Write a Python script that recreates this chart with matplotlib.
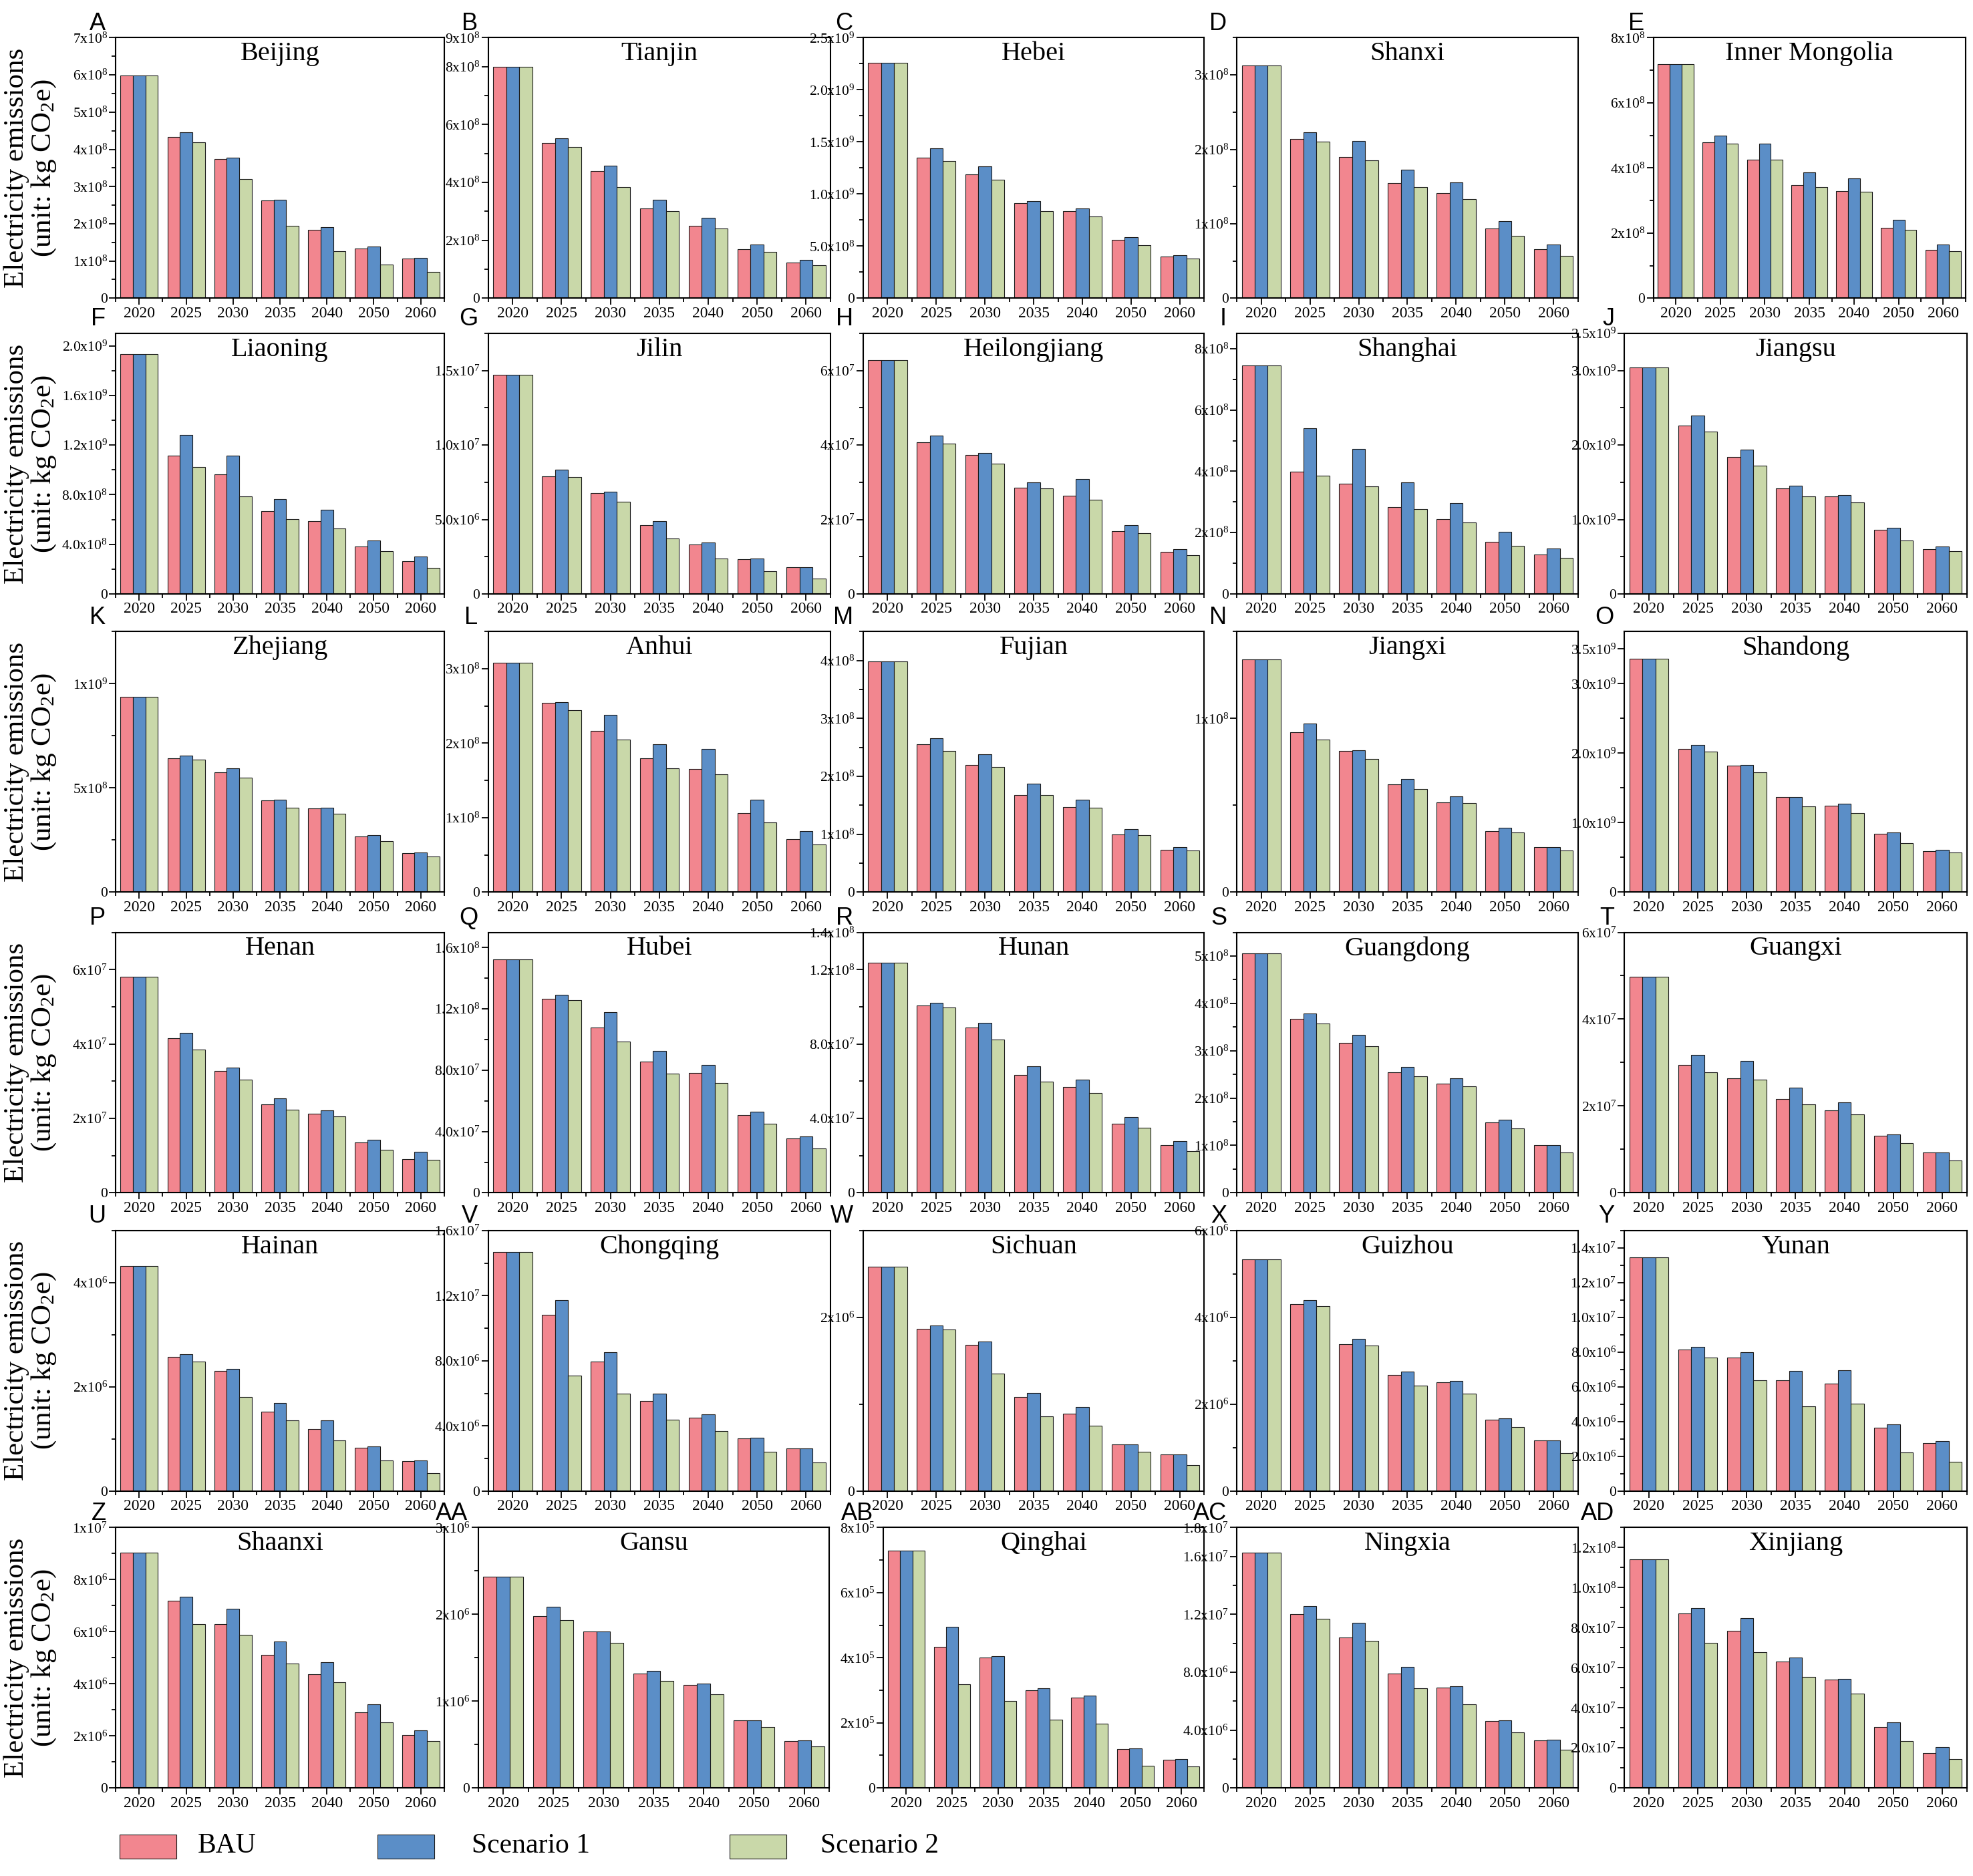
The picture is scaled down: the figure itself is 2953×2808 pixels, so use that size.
import numpy as np
import matplotlib
matplotlib.use("Agg")
import matplotlib.pyplot as plt
from matplotlib.patches import Rectangle
from matplotlib.ticker import MultipleLocator

plt.rcParams['font.family'] = ['Liberation Serif', 'DejaVu Serif']
plt.rcParams['mathtext.fontset'] = 'custom'
plt.rcParams['mathtext.rm'] = 'Liberation Serif'
plt.rcParams['mathtext.it'] = 'Liberation Serif:italic'

years = ['2020', '2025', '2030', '2035', '2040', '2050', '2060']
series = ['BAU', 'Scenario 1', 'Scenario 2']
colors = ['#F2868F', '#5B8EC7', '#C9D8A9']

letters = ['A', 'B', 'C', 'D', 'E', 'F', 'G', 'H', 'I', 'J', 'K', 'L', 'M', 'N', 'O',
           'P', 'Q', 'R', 'S', 'T', 'U', 'V', 'W', 'X', 'Y', 'Z', 'AA', 'AB', 'AC', 'AD']
provinces = ['Beijing', 'Tianjin', 'Hebei', 'Shanxi', 'Inner Mongolia',
             'Liaoning', 'Jilin', 'Heilongjiang', 'Shanghai', 'Jiangsu',
             'Zhejiang', 'Anhui', 'Fujian', 'Jiangxi', 'Shandong',
             'Henan', 'Hubei', 'Hunan', 'Guangdong', 'Guangxi',
             'Hainan', 'Chongqing', 'Sichuan', 'Guizhou', 'Yunan',
             'Shaanxi', 'Gansu', 'Qinghai', 'Ningxia', 'Xinjiang']

# unit of each panel's numbers below (kg CO2e)
scale = [1e8, 1e8, 1e9, 1e8, 1e8,
         1e9, 1e7, 1e7, 1e8, 1e9,
         1e9, 1e8, 1e8, 1e8, 1e9,
         1e7, 1e8, 1e8, 1e8, 1e7,
         1e6, 1e7, 1e6, 1e6, 1e7,
         1e6, 1e6, 1e5, 1e7, 1e8]

bau = [
    [5.98, 4.34, 3.74, 2.63, 1.84, 1.34, 1.06],
    [8.0, 5.37, 4.40, 3.11, 2.51, 1.70, 1.24],
    [2.258, 1.349, 1.19, 0.911, 0.838, 0.561, 0.40],
    [3.13, 2.14, 1.90, 1.55, 1.41, 0.94, 0.66],
    [7.19, 4.79, 4.26, 3.48, 3.29, 2.17, 1.49],
    [1.934, 1.116, 0.965, 0.665, 0.586, 0.382, 0.263],
    [1.47, 0.791, 0.679, 0.462, 0.332, 0.232, 0.178],
    [6.28, 4.07, 3.74, 2.85, 2.63, 1.69, 1.13],
    [7.46, 3.98, 3.60, 2.83, 2.43, 1.69, 1.29],
    [3.04, 2.26, 1.84, 1.42, 1.31, 0.86, 0.60],
    [0.937, 0.643, 0.576, 0.439, 0.403, 0.266, 0.188],
    [3.08, 2.54, 2.17, 1.80, 1.65, 1.06, 0.71],
    [3.98, 2.55, 2.20, 1.68, 1.47, 1.00, 0.73],
    [1.339, 0.922, 0.812, 0.621, 0.518, 0.353, 0.257],
    [3.36, 2.06, 1.82, 1.37, 1.24, 0.84, 0.59],
    [5.80, 4.16, 3.27, 2.37, 2.12, 1.35, 0.91],
    [1.523, 1.267, 1.080, 0.857, 0.781, 0.507, 0.355],
    [1.236, 1.008, 0.887, 0.633, 0.568, 0.370, 0.255],
    [5.06, 3.67, 3.16, 2.54, 2.31, 1.49, 1.01],
    [4.98, 2.95, 2.63, 2.16, 1.90, 1.32, 0.93],
    [4.32, 2.58, 2.30, 1.52, 1.19, 0.83, 0.57],
    [1.468, 1.084, 0.797, 0.551, 0.451, 0.322, 0.260],
    [2.58, 1.865, 1.68, 1.08, 0.89, 0.54, 0.42],
    [5.34, 4.30, 3.38, 2.68, 2.51, 1.65, 1.16],
    [1.344, 0.815, 0.770, 0.638, 0.618, 0.366, 0.277],
    [9.04, 7.18, 6.29, 5.10, 4.37, 2.91, 2.04],
    [2.43, 1.98, 1.80, 1.32, 1.19, 0.78, 0.54],
    [7.29, 4.34, 4.00, 3.00, 2.78, 1.20, 0.87],
    [1.625, 1.202, 1.041, 0.790, 0.694, 0.463, 0.327],
    [1.14, 0.870, 0.785, 0.630, 0.540, 0.305, 0.175],
]
scen1 = [
    [5.98, 4.46, 3.77, 2.65, 1.91, 1.39, 1.08],
    [8.0, 5.52, 4.58, 3.40, 2.77, 1.85, 1.33],
    [2.258, 1.436, 1.263, 0.930, 0.864, 0.585, 0.415],
    [3.13, 2.23, 2.11, 1.73, 1.56, 1.04, 0.72],
    [7.19, 5.00, 4.74, 3.86, 3.69, 2.40, 1.65],
    [1.934, 1.279, 1.116, 0.765, 0.677, 0.433, 0.301],
    [1.47, 0.833, 0.687, 0.488, 0.347, 0.238, 0.178],
    [6.28, 4.25, 3.79, 2.99, 3.09, 1.84, 1.21],
    [7.46, 5.40, 4.73, 3.64, 2.97, 2.02, 1.47],
    [3.04, 2.40, 1.94, 1.45, 1.33, 0.89, 0.64],
    [0.937, 0.656, 0.595, 0.444, 0.405, 0.273, 0.191],
    [3.08, 2.55, 2.38, 1.99, 1.92, 1.24, 0.82],
    [3.98, 2.66, 2.38, 1.87, 1.60, 1.09, 0.78],
    [1.339, 0.969, 0.815, 0.650, 0.551, 0.371, 0.259],
    [3.36, 2.12, 1.83, 1.37, 1.27, 0.86, 0.61],
    [5.80, 4.30, 3.36, 2.54, 2.21, 1.43, 1.10],
    [1.523, 1.293, 1.179, 0.925, 0.834, 0.530, 0.368],
    [1.236, 1.023, 0.912, 0.679, 0.610, 0.407, 0.278],
    [5.06, 3.79, 3.33, 2.66, 2.42, 1.54, 1.01],
    [4.98, 3.18, 3.04, 2.42, 2.09, 1.35, 0.93],
    [4.32, 2.62, 2.34, 1.69, 1.35, 0.85, 0.59],
    [1.468, 1.174, 0.854, 0.599, 0.470, 0.327, 0.260],
    [2.58, 1.906, 1.72, 1.13, 0.97, 0.54, 0.42],
    [5.34, 4.40, 3.51, 2.75, 2.53, 1.68, 1.17],
    [1.344, 0.830, 0.801, 0.692, 0.694, 0.382, 0.286],
    [9.04, 7.35, 6.89, 5.61, 4.82, 3.20, 2.20],
    [2.43, 2.09, 1.80, 1.35, 1.20, 0.78, 0.55],
    [7.29, 4.94, 4.05, 3.07, 2.84, 1.22, 0.88],
    [1.625, 1.258, 1.140, 0.836, 0.701, 0.468, 0.331],
    [1.14, 0.897, 0.847, 0.650, 0.545, 0.328, 0.203],
]
scen2 = [
    [5.98, 4.19, 3.21, 1.95, 1.26, 0.91, 0.71],
    [8.0, 5.22, 3.85, 3.00, 2.42, 1.61, 1.13],
    [2.258, 1.315, 1.138, 0.838, 0.784, 0.512, 0.378],
    [3.13, 2.10, 1.85, 1.49, 1.33, 0.84, 0.57],
    [7.19, 4.74, 4.25, 3.42, 3.28, 2.11, 1.45],
    [1.934, 1.022, 0.784, 0.602, 0.530, 0.342, 0.210],
    [1.47, 0.786, 0.621, 0.371, 0.238, 0.151, 0.104],
    [6.28, 4.04, 3.50, 2.84, 2.53, 1.63, 1.04],
    [7.46, 3.86, 3.51, 2.77, 2.33, 1.57, 1.18],
    [3.04, 2.18, 1.72, 1.31, 1.23, 0.72, 0.57],
    [0.937, 0.636, 0.548, 0.405, 0.375, 0.245, 0.171],
    [3.08, 2.44, 2.05, 1.66, 1.58, 0.94, 0.64],
    [3.98, 2.44, 2.16, 1.68, 1.46, 0.98, 0.72],
    [1.339, 0.879, 0.768, 0.592, 0.513, 0.342, 0.239],
    [3.36, 2.02, 1.72, 1.23, 1.14, 0.70, 0.57],
    [5.80, 3.85, 3.04, 2.24, 2.05, 1.15, 0.89],
    [1.523, 1.257, 0.989, 0.776, 0.717, 0.449, 0.289],
    [1.236, 0.996, 0.825, 0.599, 0.537, 0.349, 0.225],
    [5.06, 3.57, 3.10, 2.46, 2.25, 1.36, 0.85],
    [4.98, 2.78, 2.61, 2.04, 1.80, 1.14, 0.75],
    [4.32, 2.48, 1.81, 1.36, 0.97, 0.59, 0.34],
    [1.468, 0.709, 0.599, 0.439, 0.368, 0.243, 0.177],
    [2.58, 1.861, 1.35, 0.86, 0.75, 0.45, 0.30],
    [5.34, 4.26, 3.35, 2.42, 2.25, 1.48, 0.87],
    [1.344, 0.770, 0.638, 0.487, 0.502, 0.223, 0.167],
    [9.04, 6.30, 5.88, 4.77, 4.05, 2.52, 1.79],
    [2.43, 1.93, 1.67, 1.23, 1.08, 0.70, 0.48],
    [7.29, 3.19, 2.68, 2.09, 1.97, 0.69, 0.65],
    [1.625, 1.169, 1.018, 0.691, 0.579, 0.382, 0.263],
    [1.14, 0.724, 0.676, 0.555, 0.470, 0.235, 0.145],
]

# y axis: top of range, tick values (same unit as the data) and decimals of the mantissa
ytop = [7, 9, 2.5, 3.5, 8,
        2.1, 1.75, 7, 8.5, 3.5,
        1.25, 3.5, 4.5, 1.5, 3.75,
        7, 1.7, 1.4, 5.5, 6,
        5, 1.6, 3, 6, 1.5,
        10, 3, 8, 1.8, 1.3]
yticks = [
    [0, 1, 2, 3, 4, 5, 6, 7], [0, 2, 4, 6, 8, 9], [0, 0.5, 1, 1.5, 2, 2.5], [0, 1, 2, 3], [0, 2, 4, 6, 8],
    [0, 0.4, 0.8, 1.2, 1.6, 2.0], [0, 0.5, 1.0, 1.5], [0, 2, 4, 6], [0, 2, 4, 6, 8], [0, 1, 2, 3, 3.5],
    [0, 0.5, 1], [0, 1, 2, 3], [0, 1, 2, 3, 4], [0, 1], [0, 1, 2, 3, 3.5],
    [0, 2, 4, 6], [0, 0.4, 0.8, 1.2, 1.6], [0, 0.4, 0.8, 1.2, 1.4], [0, 1, 2, 3, 4, 5], [0, 2, 4, 6],
    [0, 2, 4], [0, 0.4, 0.8, 1.2, 1.6], [0, 2], [0, 2, 4, 6], [0, 0.2, 0.4, 0.6, 0.8, 1.0, 1.2, 1.4],
    [0, 2, 4, 6, 8, 10], [0, 1, 2, 3], [0, 2, 4, 6, 8], [0, 0.4, 0.8, 1.2, 1.6, 1.8], [0, 0.2, 0.4, 0.6, 0.8, 1.0, 1.2],
]
ydec = [0, 0, 1, 0, 0,
        1, 1, 0, 0, 1,
        0, 0, 0, 0, 1,
        0, 1, 1, 0, 0,
        0, 1, 0, 0, 1,
        0, 0, 0, 1, 1]


def sci_label(v, dec):
    if v == 0:
        return '0'
    e = int(np.floor(np.log10(v) + 1e-9))
    m = v / 10 ** e
    return r'$\mathregular{%.*fx10^{%d}}$' % (dec, m, e)


# layout measured on a 1568 x 1491 preview of the reference
W, H = 1568.0, 1491.0
col_left = [92, 388, 686, 983, 1291]
col_width = [261, 272, 271, 271, 272]
row_top = [30, 265, 502, 741, 978, 1214]
row_h = 207
special = {(0, 4): (1314, 248), (5, 1): (380, 279), (5, 2): (702, 255)}

fig = plt.figure(figsize=(29.53, 28.08), dpi=100)

x = np.arange(len(years))
bw = 0.8 / 3

for i, name in enumerate(provinces):
    r, c = divmod(i, 5)
    left, width = special.get((r, c), (col_left[c], col_width[c]))
    ax = fig.add_axes([left / W, 1 - (row_top[r] + row_h) / H, width / W, row_h / H])

    s = scale[i]
    for k, vals in enumerate([bau[i], scen1[i], scen2[i]]):
        ax.bar(x + (k - 1) * bw, np.array(vals) * s, bw, color=colors[k],
               edgecolor='#1a1a1a', linewidth=0.8)

    ax.set_xlim(-0.5, len(years) - 0.5)
    ax.set_ylim(0, ytop[i] * s)
    ax.set_xticks(x)
    ax.set_xticklabels(years, fontsize=17)
    ax.xaxis.set_minor_locator(MultipleLocator(0.5))
    tv = [t * s for t in yticks[i]]
    ax.set_yticks(tv)
    ax.set_yticklabels([sci_label(t, ydec[i]) for t in tv], fontsize=15.5)
    ax.yaxis.set_minor_locator(MultipleLocator((yticks[i][1] - yticks[i][0]) * s / 2))
    ax.tick_params(which='both', direction='out', width=1.3, top=False, right=False)
    ax.tick_params(which='major', length=7, pad=2)
    ax.tick_params(which='minor', length=4)
    for sp in ax.spines.values():
        sp.set_linewidth(1.5)

    ax.text(0.5, 0.985, name, transform=ax.transAxes, ha='center', va='top', fontsize=29)
    ax.text(-0.03, 1.03, letters[i], transform=ax.transAxes, ha='right', va='baseline',
            fontsize=26, family='Liberation Sans')

    if c == 0:
        ax.set_ylabel('Electricity emissions\n(unit: kg CO$\\mathregular{_2}$e)',
                      fontsize=31, linespacing=1.05)
        ax.yaxis.set_label_coords(-0.175, 0.5)

# legend along the bottom
leg_patch_x = [95, 300, 580]
leg_text_x = [157, 375, 652]
for k, lab in enumerate(series):
    fig.add_artist(Rectangle((leg_patch_x[k] / W, 1 - 1477 / H), 45 / W, 19 / H,
                             transform=fig.transFigure, facecolor=colors[k],
                             edgecolor='#1a1a1a', linewidth=0.8))
    fig.text(leg_text_x[k] / W, 1 - 1467 / H, lab, ha='left', va='center', fontsize=30)

fig.savefig('out.png', dpi=100)
